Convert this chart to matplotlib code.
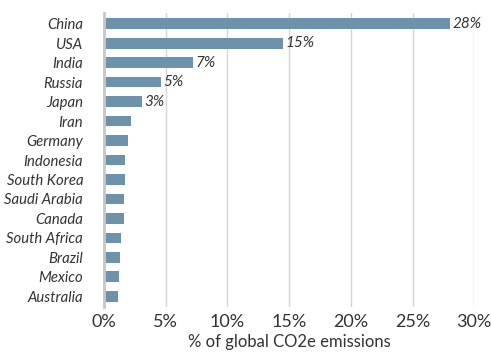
import matplotlib
matplotlib.use("Agg")
import matplotlib.pyplot as plt
from matplotlib.ticker import FuncFormatter

countries = ["China", "USA", "India", "Russia", "Japan", "Iran", "Germany", "Indonesia",
             "South Korea", "Saudi Arabia", "Canada", "South Africa", "Brazil", "Mexico", "Australia"]
values = [28.0, 14.5, 7.2, 4.6, 3.05, 2.2, 1.95, 1.7, 1.7, 1.62, 1.62, 1.35, 1.3, 1.22, 1.14]
value_labels = ["28%", "15%", "7%", "5%", "3%"]
xticks = [0, 5, 10, 15, 20, 25, 30]

text_col = "#333333"
bar_col = "#6c93ab"

fig = plt.figure(figsize=(4.91, 3.54), dpi=100)
W, H = 491, 354
ax = fig.add_axes([104 / W, 1 - 307 / H, (474.3 - 104) / W, (307 - 13) / H])

y = list(range(len(countries)))
ax.barh(y, values, height=0.55, color=bar_col, zorder=3)
ax.set_ylim(len(countries) - 0.45, -0.55)
ax.set_xlim(0, 30)
ax.set_xticks(xticks)
ax.xaxis.set_major_formatter(FuncFormatter(lambda v, p: f"{v:.0f}%"))
ax.set_yticks(y)
ax.set_yticklabels(countries, fontfamily="Lato", fontstyle="italic", fontsize=10.7, color=text_col)
for lab in ax.get_xticklabels():
    lab.set_fontfamily("Lato")
    lab.set_fontsize(13)
    lab.set_color(text_col)
ax.tick_params(axis="y", length=0, pad=15)
ax.tick_params(axis="x", length=0, pad=5)
ax.grid(axis="x", color="#d6d6d6", linewidth=1, zorder=0)
for s in ["top", "right", "bottom"]:
    ax.spines[s].set_visible(False)
ax.spines["left"].set_color("#c8c8c8")
ax.spines["left"].set_linewidth(2)
ax.spines["left"].set_zorder(4)

for i, lab in enumerate(value_labels):
    ax.text(values[i] + 0.2, i, lab, va="center", ha="left",
            fontfamily="Lato", fontstyle="italic", fontsize=11, color=text_col, zorder=5)

ax.set_xlabel("% of global CO2e emissions", fontfamily="Lato", fontsize=12, color=text_col, labelpad=3)

fig.savefig("out.png", dpi=100)
